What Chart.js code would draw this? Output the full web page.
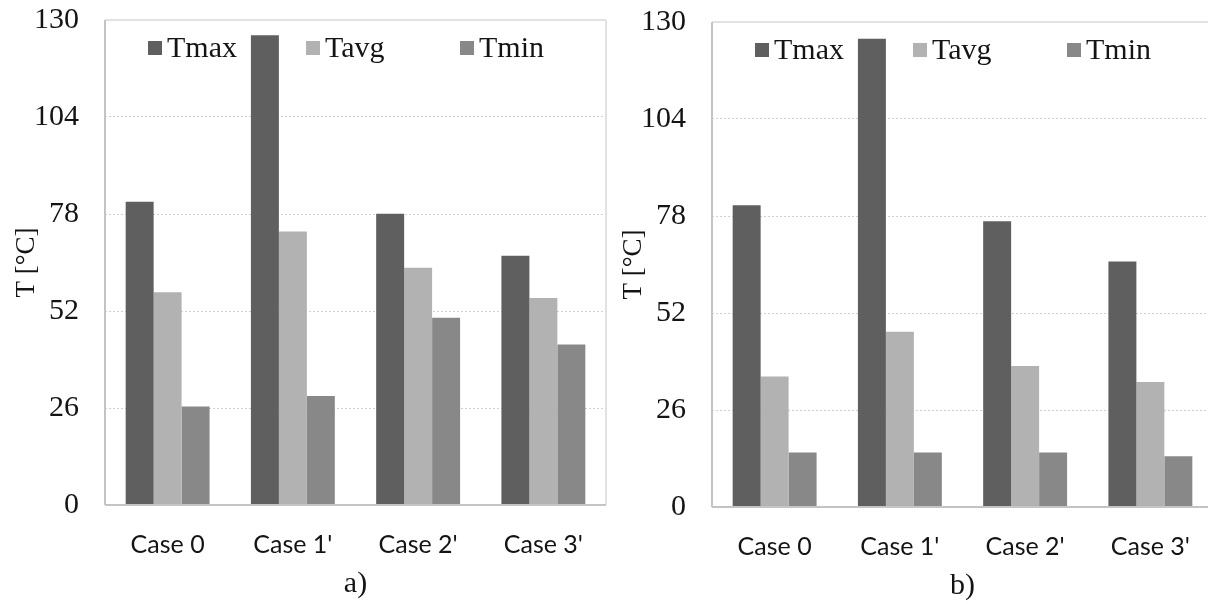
<!DOCTYPE html>
<html>
<head>
<meta charset="utf-8">
<script src="https://cdn.jsdelivr.net/npm/chart.js@4.4.0/dist/chart.umd.min.js"></script>
<style>
  html, body { margin: 0; padding: 0; background: #fff; overflow: hidden; width: 1208px; height: 604px; position: relative; }
  canvas { position: absolute; }
  #chartA { left: 0; top: 0; }
  #chartB { left: 607px; top: 2px; }
</style>
</head>
<body>
<canvas id="chartA" width="610" height="604"></canvas>
<canvas id="chartB" width="610" height="604"></canvas>
<script>
// Categories and series names
const cases = ['Case 0', "Case 1'", "Case 2'", "Case 3'"];
const seriesNames = ['Tmax', 'Tavg', 'Tmin'];
const yTicks = [0, 26, 52, 78, 104, 130];

// Panel a) temperatures [°C]
const tmaxA = [81.3, 125.9, 78.1, 66.8];
const tavgA = [57.0, 73.3, 63.6, 55.5];
const tminA = [26.4, 29.2, 50.2, 43.0];

// Panel b) temperatures [°C]
const tmaxB = [80.9, 125.5, 76.6, 65.8];
const tavgB = [35.0, 47.0, 37.8, 33.5];
const tminB = [14.6, 14.6, 14.6, 13.6];

const seriesColors = ['#5f5f5f', '#b2b2b2', '#888888'];
const SERIF = '"Liberation Serif", "Times New Roman", serif';
const SANS = 'Lato, "Open Sans", sans-serif';
const TEXT = '#141414';
const LEGEND_X = [43, 201, 355];

// Plot frame: light border around the plotting area, darker base line
const frame = {
  id: 'frame',
  afterDatasetsDraw(chart) {
    const { ctx, chartArea: { left, right, top, bottom } } = chart;
    ctx.save();
    ctx.setLineDash([]);
    ctx.lineWidth = 1.5;
    ctx.strokeStyle = '#d9d9d9';
    ctx.beginPath();
    ctx.moveTo(left, top); ctx.lineTo(right, top);
    ctx.moveTo(right, top); ctx.lineTo(right, bottom);
    ctx.stroke();
    ctx.lineWidth = 2;
    ctx.strokeStyle = '#c4c4c4';
    ctx.beginPath();
    ctx.moveTo(left, top); ctx.lineTo(left, bottom);
    ctx.moveTo(left, bottom); ctx.lineTo(right, bottom);
    ctx.stroke();
    ctx.restore();
  }
};

// Legend drawn inside the top of the plotting area
const legendBox = {
  id: 'legendBox',
  afterDraw(chart) {
    const { ctx, chartArea } = chart;
    ctx.save();
    ctx.font = '30px ' + SERIF;
    ctx.textBaseline = 'middle';
    ctx.textAlign = 'left';
    chart.data.datasets.forEach((ds, i) => {
      const x = chartArea.left + LEGEND_X[i];
      const y = chartArea.top + 28;
      ctx.fillStyle = ds.backgroundColor;
      ctx.fillRect(x, y - 7, 14, 14);
      ctx.fillStyle = TEXT;
      ctx.fillText(ds.label, x + 19, y + 1);
    });
    ctx.restore();
  }
};

function build(id, tmax, tavg, tmin, panel) {
  return new Chart(document.getElementById(id), {
    type: 'bar',
    data: {
      labels: cases,
      datasets: [tmax, tavg, tmin].map((d, i) => ({
        label: seriesNames[i],
        data: d,
        backgroundColor: seriesColors[i],
        borderWidth: 0
      }))
    },
    options: {
      responsive: false,
      devicePixelRatio: 1,
      animation: false,
      layout: { padding: { left: 0, right: 4, top: 20, bottom: 0 } },
      datasets: { bar: { categoryPercentage: 0.67, barPercentage: 1 } },
      plugins: { legend: { display: false }, tooltip: { enabled: false } },
      scales: {
        x: {
          grid: { display: false, drawTicks: false },
          border: { display: false },
          ticks: { color: TEXT, font: { family: SANS, size: 25 }, padding: 25, maxRotation: 0 },
          title: { display: true, text: panel, color: TEXT, font: { family: SERIF, size: 30 }, padding: { top: 0, bottom: 2 } },
          afterFit: s => { s.height = 99; s.paddingLeft = 0; s.paddingRight = 0; }
        },
        y: {
          min: 0,
          max: 130,
          afterBuildTicks: s => { s.ticks = yTicks.map(v => ({ value: v })); },
          ticks: { color: TEXT, font: { family: SERIF, size: 30 }, padding: 26 },
          grid: {
            drawTicks: false,
            lineWidth: 1,
            color: c => (c.tick && (c.tick.value === 0 || c.tick.value === 130)) ? 'rgba(0,0,0,0)' : '#d0d0d0'
          },
          border: { display: false, dash: [2, 2] },
          title: { display: true, text: 'T [°C]', color: TEXT, font: { family: SERIF, size: 27 }, padding: { top: 11, bottom: 0 } },
          afterFit: s => { s.width = 105; s.paddingTop = 0; s.paddingBottom = 0; }
        }
      }
    },
    plugins: [frame, legendBox]
  });
}

build('chartA', tmaxA, tavgA, tminA, 'a)');
build('chartB', tmaxB, tavgB, tminB, 'b)');
</script>
</body>
</html>
